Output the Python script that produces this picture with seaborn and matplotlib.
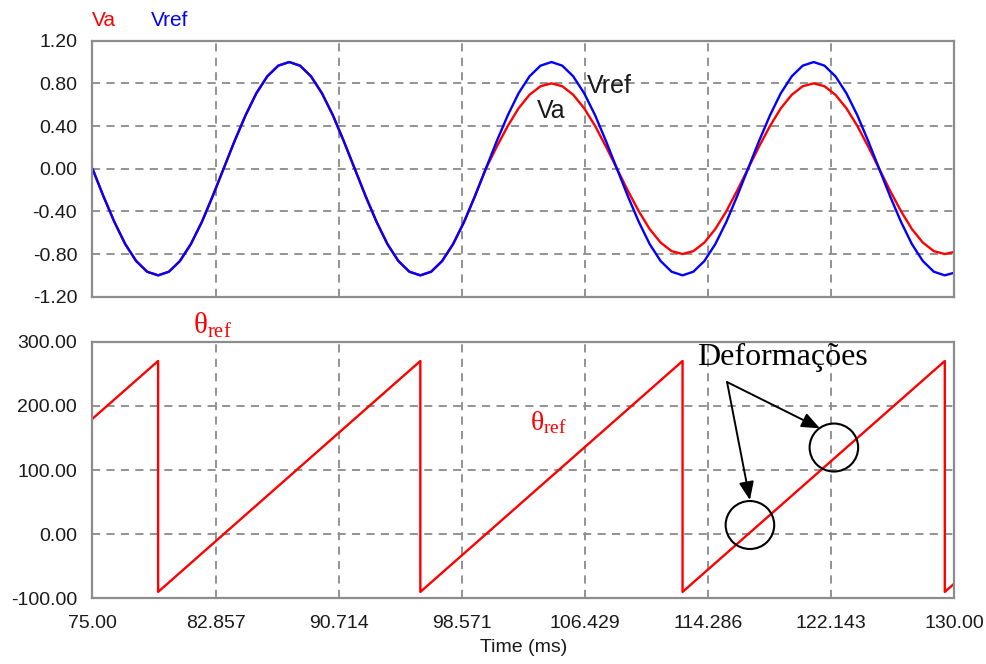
import matplotlib
matplotlib.use("Agg")
import matplotlib.pyplot as plt
import numpy as np
import pandas as pd
import seaborn as sns
from matplotlib.patches import Ellipse

# ---------------- data ----------------
time_ms = [75.00, 75.70, 76.40, 77.09, 77.79, 78.49, 79.19, 79.88, 80.58, 81.28,
           81.98, 82.67, 83.37, 84.07, 84.77, 85.46, 86.16, 86.86, 87.56, 88.25,
           88.95, 89.65, 90.35, 91.04, 91.74, 92.44, 93.14, 93.83, 94.53, 95.23,
           95.93, 96.62, 97.32, 98.02, 98.72, 99.41, 100.11, 100.81, 101.51, 102.20,
           102.90, 103.60, 104.30, 104.99, 105.69, 106.39, 107.09, 107.78, 108.48, 109.18,
           109.88, 110.57, 111.27, 111.97, 112.67, 113.36, 114.06, 114.76, 115.46, 116.15,
           116.85, 117.55, 118.25, 118.94, 119.64, 120.34, 121.04, 121.73, 122.43, 123.13,
           123.83, 124.52, 125.22, 125.92, 126.62, 127.31, 128.01, 128.71, 129.41, 130.00]

vref = [0.0, -0.259, -0.5, -0.707, -0.866, -0.966, -1.0, -0.966, -0.866, -0.707,
        -0.5, -0.259, 0.0, 0.259, 0.5, 0.707, 0.866, 0.966, 1.0, 0.966,
        0.866, 0.707, 0.5, 0.259, 0.0, -0.259, -0.5, -0.707, -0.866, -0.966,
        -1.0, -0.966, -0.866, -0.707, -0.5, -0.259, 0.0, 0.259, 0.5, 0.707,
        0.866, 0.966, 1.0, 0.966, 0.866, 0.707, 0.5, 0.259, 0.0, -0.259,
        -0.5, -0.707, -0.866, -0.966, -1.0, -0.966, -0.866, -0.707, -0.5, -0.259,
        0.0, 0.259, 0.5, 0.707, 0.866, 0.966, 1.0, 0.966, 0.866, 0.707,
        0.5, 0.259, 0.0, -0.259, -0.5, -0.707, -0.866, -0.966, -1.0, -0.976]

va = [0.0, -0.259, -0.5, -0.707, -0.866, -0.966, -1.0, -0.966, -0.866, -0.707,
      -0.5, -0.259, 0.0, 0.259, 0.5, 0.707, 0.866, 0.966, 1.0, 0.966,
      0.866, 0.707, 0.5, 0.259, 0.0, -0.259, -0.5, -0.707, -0.866, -0.966,
      -1.0, -0.966, -0.866, -0.707, -0.5, -0.259, 0.0, 0.207, 0.4, 0.566,
      0.693, 0.773, 0.8, 0.773, 0.693, 0.566, 0.4, 0.207, 0.0, -0.207,
      -0.4, -0.566, -0.693, -0.773, -0.8, -0.773, -0.693, -0.566, -0.4, -0.207,
      0.0, 0.207, 0.4, 0.566, 0.693, 0.773, 0.8, 0.773, 0.693, 0.566,
      0.4, 0.207, 0.0, -0.207, -0.4, -0.566, -0.693, -0.773, -0.8, -0.781]

theta_time = [75.00, 79.19, 79.19, 95.93, 95.93, 112.67, 112.67, 129.41, 129.41, 130.00]
theta_ref = [180.0, 270.0, -90.0, 270.0, -90.0, 270.0, -90.0, 270.0, -90.0, -77.3]

x_tick_labels = ["75.00", "82.857", "90.714", "98.571", "106.429", "114.286", "122.143", "130.00"]
top_yticks = [-1.2, -0.8, -0.4, 0.0, 0.4, 0.8, 1.2]
bottom_yticks = [-100, 0, 100, 200, 300]

# ---------------- style ----------------
sns.set_style("white")
plt.rcParams["font.family"] = ["Liberation Sans", "DejaVu Sans"]
plt.rcParams["mathtext.fontset"] = "custom"
plt.rcParams["mathtext.rm"] = "Liberation Serif"
plt.rcParams["mathtext.it"] = "Liberation Serif:italic"

FRAME = "#8c8c8c"
GRID = "#8a8a8a"

fig = plt.figure(figsize=(9.87, 6.64), dpi=100)
ax1 = fig.add_axes([0.0937, 0.5532, 0.8729, 0.3855])
ax2 = fig.add_axes([0.0937, 0.0989, 0.8729, 0.3864])

wave = pd.DataFrame({"t": time_ms, "Va": va, "Vref": vref})
theta_df = pd.DataFrame({"t": theta_time, "theta": theta_ref})

sns.lineplot(data=wave, x="t", y="Va", ax=ax1, color="#ff0000", lw=1.7,
             estimator=None, sort=False)
sns.lineplot(data=wave, x="t", y="Vref", ax=ax1, color="#0000ff", lw=1.7,
             estimator=None, sort=False)
sns.lineplot(data=theta_df, x="t", y="theta", ax=ax2, color="#ff0000", lw=1.7,
             estimator=None, sort=False)

xticks = [float(s) for s in x_tick_labels]
for ax, yt, ylim in ((ax1, top_yticks, (-1.2, 1.2)),
                     (ax2, bottom_yticks, (-100, 300))):
    ax.set_xlim(75, 130)
    ax.set_ylim(*ylim)
    ax.set_xticks(xticks)
    ax.set_yticks(yt)
    ax.set_yticklabels(["{:.2f}".format(v) for v in yt])
    ax.set_xlabel("")
    ax.set_ylabel("")
    ax.grid(True, color=GRID, lw=1.3, linestyle=(0, (4.5, 3.5)))
    ax.set_axisbelow(True)
    for sp in ax.spines.values():
        sp.set_color(FRAME)
        sp.set_linewidth(1.6)
    ax.tick_params(length=0, labelsize=14, colors="#1a1a1a", pad=11)

ax1.set_xticklabels([])
ax2.set_xticklabels(x_tick_labels)
ax2.tick_params(axis="x", pad=12)
ax2.set_xlabel("Time (ms)", fontsize=14, color="#1a1a1a", labelpad=5)

# legend-like labels at top
fig.text(92 / 987, 1 - 20 / 664, "Va", color="#ff0000", fontsize=15, va="center", ha="left")
fig.text(151 / 987, 1 - 20 / 664, "Vref", color="#0000ff", fontsize=15, va="center", ha="left")

# annotations in top plot
ax1.text(108.0, 0.775, "Vref", fontsize=18, color="#1a1a1a", ha="center", va="center")
ax1.text(104.27, 0.541, "Va", fontsize=18, color="#1a1a1a", ha="center", va="center")

# theta labels
ax2.text(81.42, 312, r"$\mathrm{\theta}_{\mathrm{ref}}$", color="#ff0000", fontsize=21,
         ha="left", va="baseline", clip_on=False)
ax2.text(102.93, 162, r"$\mathrm{\theta}_{\mathrm{ref}}$", color="#ff0000", fontsize=20,
         ha="left", va="baseline")

# Deformações annotation
ax2.text(113.6, 263.7, "Deformações", fontsize=23, family=["Liberation Serif", "DejaVu Serif"],
         color="black", ha="left", va="baseline", clip_on=False)
for tip in ((116.97, 53.2), (121.44, 165.0)):
    ax2.annotate("", xy=tip, xytext=(115.51, 237.2),
                 arrowprops=dict(arrowstyle="-|>,head_length=1.1,head_width=0.45",
                                 color="black", lw=1.4, shrinkA=0, shrinkB=0))
for cx, cy in ((116.97, 14.3), (122.33, 135.1)):
    ax2.add_patch(Ellipse((cx, cy), width=3.10, height=74.8, fill=False,
                          edgecolor="black", lw=1.5, zorder=5))

fig.savefig("out.png", dpi=100)
